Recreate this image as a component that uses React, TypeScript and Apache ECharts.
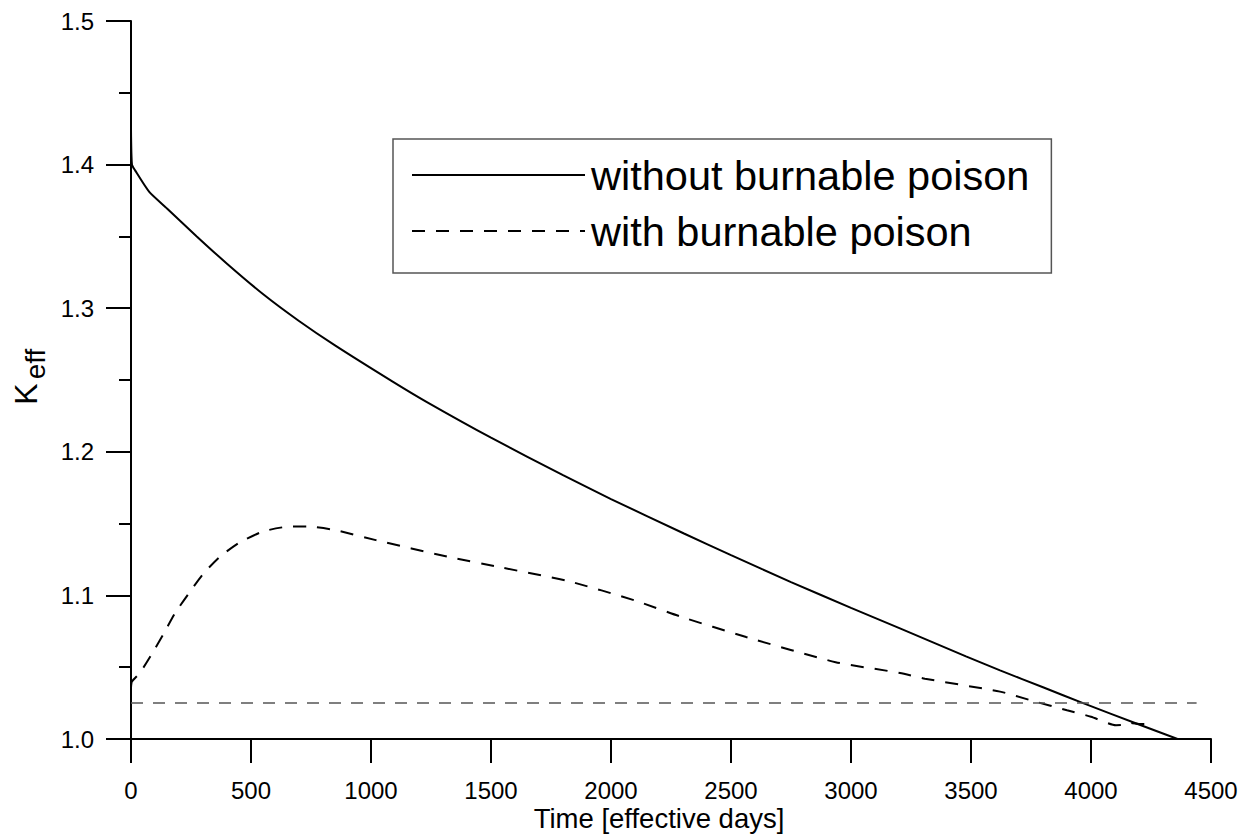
import React, { useEffect, useRef } from "react";
import * as echarts from "echarts";

const xTicks = [0, 500, 1000, 1500, 2000, 2500, 3000, 3500, 4000, 4500];
const yTicks = [1.0, 1.1, 1.2, 1.3, 1.4, 1.5];

const solidDays = [0, 4, 17, 76, 150, 274, 400, 551, 700, 850, 1092, 1233, 1500, 1800, 2000, 2304, 2500, 2750, 3000, 3204, 3479, 3621, 3800, 3967, 4200, 4380];
const solidK = [1.425, 1.4, 1.396, 1.381, 1.3695, 1.35, 1.331, 1.3097, 1.2911, 1.2741, 1.2487, 1.2346, 1.2098, 1.1837, 1.1671, 1.1431, 1.128, 1.1093, 1.0913, 1.077, 1.0575, 1.0478, 1.036, 1.025, 1.0101, 0.9988];

const dashDays = [0, 4, 37, 86, 135, 183, 239, 301, 371, 454, 550, 650, 732, 850, 1020, 1317, 1541, 1821, 2099, 2285, 2563, 2936, 3204, 3308, 3621, 3754, 3900, 4000, 4104, 4130, 4167, 4200, 4250];
const dashK = [1.036, 1.04, 1.046, 1.059, 1.073, 1.0875, 1.101, 1.115, 1.127, 1.137, 1.1445, 1.1478, 1.148, 1.1455, 1.1385, 1.127, 1.1195, 1.11, 1.0965, 1.0855, 1.071, 1.0535, 1.046, 1.042, 1.033, 1.0267, 1.02, 1.0155, 1.0096, 1.0098, 1.0112, 1.0105, 1.0105];

const refDays = [0, 4440];
const refK = [1.025, 1.025];

const seriesNames = ["without burnable poison", "with burnable poison"];
const xTitle = "Time [effective days]";

const FONT = '"Liberation Sans", Arial, sans-serif';

export default function App() {
  const ref = useRef<HTMLDivElement>(null);
  useEffect(() => {
    document.body.style.margin = "0";
    if (!ref.current) return;
    const chart = echarts.init(ref.current, null, { renderer: "svg" });
    const zip = (a: number[], b: number[]) => a.map((v, i) => [v, b[i]]);
    chart.setOption({
      animation: false,
      backgroundColor: "#fff",
      textStyle: { fontFamily: FONT },
      grid: { left: 131, right: 44, top: 21, bottom: 97, containLabel: false, outerBoundsMode: "none" },
      legend: {
        orient: "vertical",
        left: 393,
        top: 139,
        itemWidth: 173,
        itemHeight: 14,
        itemGap: 14,
        padding: [15, 22, 21, 18],
        borderColor: "#555",
        borderWidth: 1.5,
        borderRadius: 0,
        backgroundColor: "#fff",
        itemStyle: { opacity: 0, borderWidth: 0 },
        textStyle: { fontSize: 41.5, color: "#000", fontFamily: FONT, padding: [0, 0, 0, 1] },
        data: seriesNames,
      },
      xAxis: {
        type: "value",
        min: xTicks[0],
        max: xTicks[xTicks.length - 1],
        interval: 500,
        name: xTitle,
        nameLocation: "middle",
        nameGap: 65,
        nameMoveOverlap: false,
        nameTextStyle: { fontSize: 27.5, color: "#000", fontFamily: FONT, padding: [0, 24, 0, 0] },
        axisLine: { lineStyle: { color: "#000", width: 2 } },
        axisTick: { length: 24, lineStyle: { color: "#000", width: 2 } },
        axisLabel: {
          fontSize: 24,
          color: "#000",
          margin: 39,
          fontFamily: FONT,
          formatter: (v: number) => String(v),
        },
        splitLine: { show: false },
      },
      yAxis: {
        type: "value",
        min: yTicks[0],
        max: yTicks[yTicks.length - 1],
        interval: 0.1,
        axisLine: { show: true, lineStyle: { color: "#000", width: 2 } },
        axisTick: { show: true, length: 25, lineStyle: { color: "#000", width: 2 } },
        minorTick: { show: true, splitNumber: 2, length: 12, lineStyle: { color: "#000", width: 2 } },
        axisLabel: {
          fontSize: 24,
          color: "#000",
          margin: 37,
          fontFamily: FONT,
          formatter: (v: number) => v.toFixed(1),
        },
        splitLine: { show: false },
      },
      graphic: [
        {
          type: "text",
          x: 26,
          y: 394,
          rotation: Math.PI / 2,
          style: { text: "K", fontSize: 32, fontFamily: FONT, fill: "#000", align: "center", verticalAlign: "middle" },
        },
        {
          type: "text",
          x: 35,
          y: 364,
          rotation: Math.PI / 2,
          style: { text: "eff", fontSize: 28, fontFamily: FONT, fill: "#000", align: "center", verticalAlign: "middle" },
        },
      ],
      series: [
        {
          name: seriesNames[0],
          type: "line",
          symbol: "none",
          smooth: 0.2,
          data: zip(solidDays, solidK),
          lineStyle: { color: "#000", width: 2, type: "solid" },
          itemStyle: { color: "#000" },
        },
        {
          name: seriesNames[1],
          type: "line",
          symbol: "none",
          smooth: 0.2,
          data: zip(dashDays, dashK),
          lineStyle: { color: "#000", width: 2, type: [13, 11] },
          itemStyle: { color: "#000" },
        },
        {
          name: "reference",
          type: "line",
          symbol: "none",
          data: zip(refDays, refK),
          lineStyle: { color: "#555", width: 1.5, type: [12, 10] },
          itemStyle: { color: "#555" },
        },
      ],
    });
    return () => chart.dispose();
  }, []);
  return <div ref={ref} style={{ width: 1255, height: 836 }} />;
}
